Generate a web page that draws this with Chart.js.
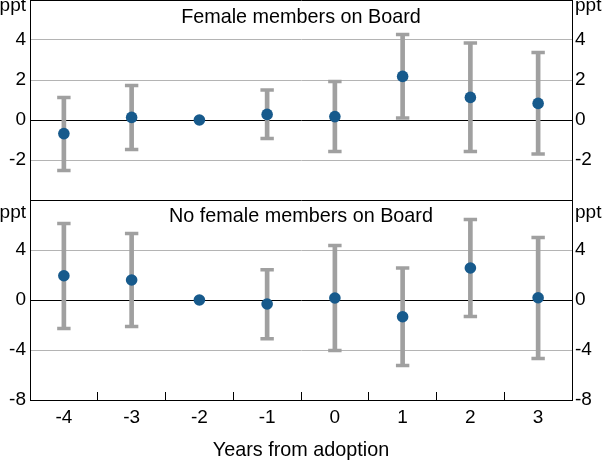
<!DOCTYPE html>
<html><head><meta charset="utf-8">
<script src="https://cdn.jsdelivr.net/npm/chart.js@4"></script>
<style>
html,body{margin:0;padding:0;background:#fff;}
#wrap{position:relative;width:603px;height:462px;overflow:hidden;}
#a{position:absolute;left:0;top:0;width:603px;height:201px;}
#b{position:absolute;left:0;top:200px;width:603px;height:262px;}
</style></head><body>
<div id="wrap"><div id="a"><canvas id="ca"></canvas></div><div id="b"><canvas id="cb"></canvas></div></div>
<script>
// ---- data ----
const categories = ['-4', '-3', '-2', '-1', '0', '1', '2', '3'];
const femaleEst  = [-0.68, 0.13, 0, 0.28, 0.17, 2.18, 1.13, 0.83];
const femaleLow  = [-2.53, -1.47, null, -0.92, -1.57, 0.10, -1.57, -1.70];
const femaleHigh = [1.13, 1.73, null, 1.50, 1.93, 4.28, 3.85, 3.38];
const noFemaleEst  = [1.94, 1.60, 0, -0.32, 0.16, -1.34, 2.56, 0.18];
const noFemaleLow  = [-2.27, -2.11, null, -3.10, -4.03, -5.23, -1.31, -4.67];
const noFemaleHigh = [6.13, 5.33, null, 2.42, 4.37, 2.56, 6.45, 5.01];
const topRange = [-4, 6];
const topStep = 2;
const bottomRange = [-8, 8];
const bottomStep = 4;
const unitLabel = 'ppt';
const topTitle = 'Female members on Board';
const bottomTitle = 'No female members on Board';
const xTitle = 'Years from adoption';

// ---- styles ----
const FAMILY = '"Liberation Sans", Arial, Helvetica, sans-serif';
const BLUE = '#175a8c';
const GREY = '#a0a0a0';
const GRID = '#b4b4b4';

const panelTitle = {
  id: 'panelTitle',
  afterDraw(chart, args, opts) {
    const {ctx, chartArea} = chart;
    ctx.save();
    ctx.font = '19.8px ' + FAMILY;
    ctx.fillStyle = '#000';
    ctx.textAlign = 'center';
    ctx.textBaseline = 'alphabetic';
    ctx.fillText(opts.text, (chartArea.left + chartArea.right) / 2, chartArea.top + opts.baseline);
    ctx.restore();
  }
};

function makeChart(canvasId, est, low, high, range, step, title, showX, pptLH, titleBase, hideVal) {
  const tickCb = v => (v === range[1] ? ['', unitLabel] : (v === hideVal ? '' : String(v)));
  const gridColor = c => {
    const v = c.tick.value;
    if (v === 0 || v === range[1]) return '#000';
    if (v === range[0]) return 'rgba(0,0,0,0)';
    return GRID;
  };
  const tickFont = {size: 19, family: FAMILY, lineHeight: pptLH};
  const yCommon = {
    min: range[0], max: range[1],
    border: {display: true, color: '#000', width: 1},
  };
  return new Chart(document.getElementById(canvasId), {
    type: 'bar',
    data: {
      labels: categories,
      datasets: [
        {type: 'bar', data: low.map((l, i) => (l === null ? null : [l, high[i]])),
         backgroundColor: GREY, barThickness: 4, order: 3},
        {type: 'line', data: low, showLine: false, pointStyle: 'line', pointRadius: 6.7,
         pointBorderWidth: 3.5, pointBorderColor: GREY, pointBackgroundColor: GREY, order: 2},
        {type: 'line', data: high, showLine: false, pointStyle: 'line', pointRadius: 6.7,
         pointBorderWidth: 3.5, pointBorderColor: GREY, pointBackgroundColor: GREY, order: 2},
        {type: 'line', data: est, showLine: false, pointStyle: 'circle', pointRadius: 5.8,
         pointBorderWidth: 0, pointBackgroundColor: BLUE, pointBorderColor: BLUE, order: 1}
      ]
    },
    options: {
      responsive: true, maintainAspectRatio: false, animation: false, events: [],
      layout: {autoPadding: false, padding: {top: 0, bottom: showX ? 0 : 1, left: 0, right: 0}},
      plugins: {legend: {display: false}, tooltip: {enabled: false}, panelTitle: {text: title, baseline: titleBase}},
      scales: {
        x: {
          display: showX, offset: true,
          grid: {offset: true, drawOnChartArea: false, drawTicks: true, tickLength: -8, color: '#000', lineWidth: 1},
          border: {display: true, color: '#000', width: 1},
          ticks: {padding: 14, font: {size: 19, family: FAMILY}, color: '#000', maxRotation: 0, autoSkip: false},
          title: {display: true, text: xTitle, color: '#000', font: {size: 19.8, family: FAMILY}, padding: {top: 0, bottom: 0}},
          afterFit(s) { if (showX) { s.height = 62; } s.paddingLeft = 0; s.paddingRight = 0; }
        },
        y: Object.assign({}, yCommon, {
          position: 'left',
          ticks: {stepSize: step, autoSkip: false, callback: tickCb, font: tickFont, color: '#000', padding: 4},
          grid: {drawTicks: false, color: gridColor, lineWidth: 1},
          afterFit(s) { s.width = 30; s.paddingTop = 0; s.paddingBottom = 0; }
        }),
        yR: Object.assign({}, yCommon, {
          position: 'right',
          ticks: {stepSize: step, autoSkip: false, callback: tickCb, font: tickFont, color: '#000', padding: 3},
          grid: {drawTicks: false, drawOnChartArea: false},
          afterFit(s) { s.width = 31; s.paddingTop = 0; s.paddingBottom = 0; }
        })
      }
    },
    plugins: [panelTitle]
  });
}

makeChart('ca', femaleEst, femaleLow, femaleHigh, topRange, topStep, topTitle, false, 11 / 19, 22.6, topRange[0]);
makeChart('cb', noFemaleEst, noFemaleLow, noFemaleHigh, bottomRange, bottomStep, bottomTitle, true, 25 / 19, 21.8, null);
</script>
</body></html>
